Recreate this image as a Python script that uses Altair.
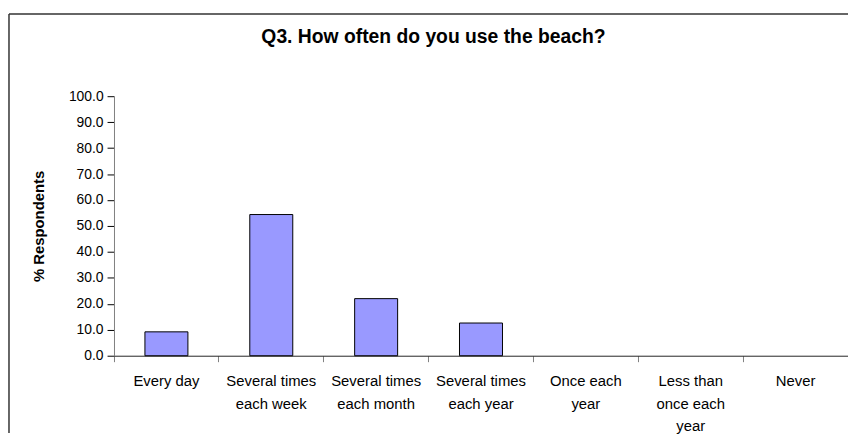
import altair as alt
import pandas as pd

categories = [
    "Every day",
    "Several times\neach week",
    "Several times\neach month",
    "Several times\neach year",
    "Once each\nyear",
    "Less than\nonce each\nyear",
    "Never",
]
percent = [9.2, 54.4, 22.0, 12.6, 0.0, 0.0, 0.0]
y_ticks = [0, 10, 20, 30, 40, 50, 60, 70, 80, 90, 100]
title_text = "Q3. How often do you use the beach?"
y_title = "% Respondents"

df = pd.DataFrame({"category": categories, "percent": percent})
one = pd.DataFrame({"k": [0]})

FONT = "Liberation Sans"
W, H = 741, 262

bars = alt.Chart(df).transform_filter("datum.percent > 0").mark_bar(
    color="#9999FF", stroke="black", strokeWidth=1,
    width=alt.RelativeBandSize(0.41),
).encode(
    x=alt.X(
        "category:N", sort=categories,
        scale=alt.Scale(domain=categories, paddingInner=0, paddingOuter=0),
        axis=alt.Axis(
            title=None, labelAngle=0,
            labelExpr="split(datum.label, '\\n')",
            labelFont=FONT, labelFontSize=15, labelColor="black",
            labelPadding=12, labelLineHeight=23, labelBaseline="top",
            tickSize=6, tickColor="#808080", domainColor="#222222",
            bandPosition=0, grid=False,
        ),
    ),
    y=alt.Y(
        "percent:Q",
        scale=alt.Scale(domain=[0, 100], nice=False),
        axis=alt.Axis(
            values=y_ticks, format=".1f", title=y_title,
            titleFont=FONT, titleFontSize=15, titleFontWeight="bold",
            titleColor="black", titlePadding=22,
            labelFont=FONT, labelFontSize=14, labelColor="black",
            labelPadding=4, tickSize=7, tickColor="black",
            domainColor="#808080", grid=False,
        ),
    ),
)

top_rule = alt.Chart(one).mark_rule(color="#333333", strokeWidth=1.5, clip=False).encode(
    x=alt.value(-106), x2=alt.value(W), y=alt.value(-83)
)
left_rule = alt.Chart(one).mark_rule(color="#333333", strokeWidth=1.5, clip=False).encode(
    x=alt.value(-106), y=alt.value(-83), y2=alt.value(340)
)

chart = alt.layer(top_rule, left_rule, bars).properties(
    width=W, height=H,
    background="white",
    view=alt.ViewBackground(stroke=None),
    title=alt.TitleParams(
        title_text, font=FONT, fontSize=19.5, fontWeight="bold",
        color="black", anchor="middle", dx=-48, offset=-35,
    ),
    autosize=alt.AutoSizeParams(type="none"),
    padding={"left": 107, "top": 87, "right": 0, "bottom": 78},
).configure_view(stroke=None)

chart.save("out.html", embed_options={"renderer": "svg", "actions": False})
